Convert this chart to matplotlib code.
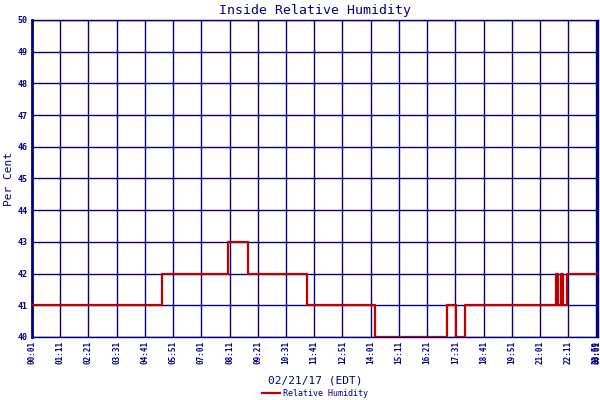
import matplotlib
matplotlib.use("Agg")
import matplotlib.pyplot as plt

# minutes since 00:01 where the humidity reading changes, and the value from then on
change_min = [0, 322, 487, 537, 681, 852, 1030, 1052, 1075, 1301, 1305, 1313, 1318, 1326, 1404]
humidity = [41, 42, 43, 42, 41, 40, 41, 40, 41, 42, 41, 42, 41, 42, 42]

tick_min = [0, 70, 140, 210, 280, 350, 420, 490, 560, 630, 700, 770, 840,
            910, 980, 1050, 1120, 1190, 1260, 1330, 1399, 1401]
tick_labels = ["00:01", "01:11", "02:21", "03:31", "04:41", "05:51", "07:01",
               "08:11", "09:21", "10:31", "11:41", "12:51", "14:01", "15:11",
               "16:21", "17:31", "18:41", "19:51", "21:01", "22:11", "23:59", "00:01"]
y_ticks = list(range(40, 51))

navy = "#000080"
red = "#c00000"
plt.rcParams['font.family'] = ['DejaVu Sans Mono']

fig = plt.figure(figsize=(6, 4), dpi=100)
ax = fig.add_axes([32/600, 63/400, 566/600, 317/400])

ax.step(change_min, humidity, where='post', color=red, lw=1.6, label="Relative Humidity", zorder=3)

ax.set_xlim(0, 1404)
ax.set_ylim(40, 50)
ax.set_xticks(tick_min)
ax.set_xticklabels(tick_labels, rotation=90, fontsize=5.5, color=navy, fontweight='bold')
ax.set_yticks(y_ticks)
ax.set_yticklabels([str(v) for v in y_ticks], fontsize=6, color=navy, fontweight='bold')
ax.tick_params(length=0, pad=3)
ax.grid(True, color=navy, lw=1.0)
for side in ['top', 'right', 'bottom']:
    ax.spines[side].set_color(navy)
    ax.spines[side].set_linewidth(1.0)
ax.spines['left'].set_color(navy)
ax.spines['left'].set_linewidth(2.0)

ax.set_title("Inside Relative Humidity", color=navy, fontsize=9.5, pad=4)
ax.set_ylabel("Per Cent", color=navy, fontsize=8, labelpad=3)
ax.set_xlabel("02/21/17 (EDT)", color=navy, fontsize=8, labelpad=8)

fig.legend(loc='lower center', bbox_to_anchor=(0.525, -0.014), frameon=False,
           fontsize=6, labelcolor=navy, handlelength=2.2, handletextpad=0.4)

fig.savefig("out.png", dpi=100)
